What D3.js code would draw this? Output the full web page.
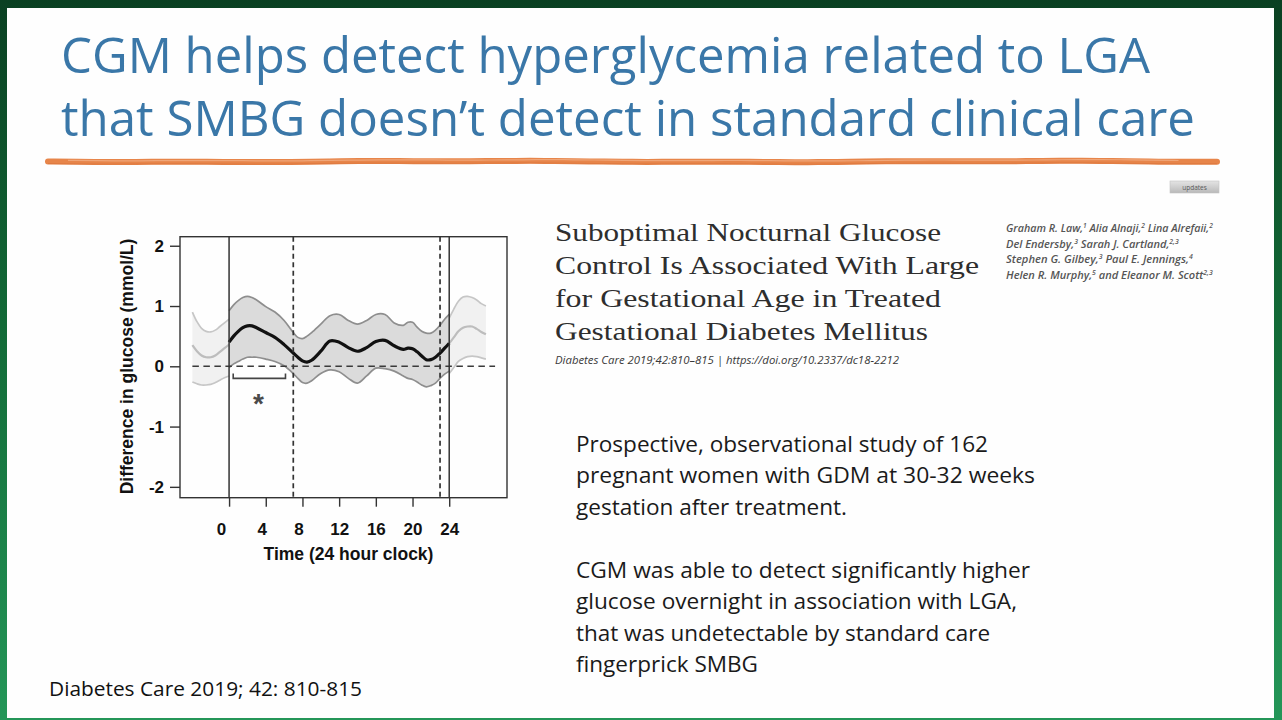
<!DOCTYPE html>
<html>
<head>
<meta charset="utf-8">
<script src="https://cdn.jsdelivr.net/npm/d3@7"></script>
<style>
  html, body { margin: 0; padding: 0; background: #0b4524; }
  svg { display: block; }
</style>
</head>
<body>
<script>
// *******************//
//        Data        //
// *******************//

const tickHours = [0, 4, 8, 12, 16, 20, 24];
const tickDiffs = [-2, -1, 0, 1, 2];
const dayBounds = [0, 24];          // solid verticals
const nightBounds = [7, 23];        // dashed verticals
const zeroSpan = [-4, 29];

// main 24 h curve (difference LGA vs non-LGA, mmol/L)
const mainHours = [0, 0.5, 1, 1.5, 2, 2.5, 3, 4, 5, 6, 7, 7.5, 8, 8.5, 9, 10, 11, 12, 13, 14, 15, 16, 17, 18, 19, 19.5, 20, 20.5, 21, 21.5, 22, 22.5, 23, 23.5, 24];
const mainMean  = [0.40, 0.50, 0.58, 0.64, 0.67, 0.67, 0.64, 0.56, 0.48, 0.36, 0.22, 0.15, 0.09, 0.07, 0.10, 0.25, 0.42, 0.40, 0.31, 0.25, 0.31, 0.41, 0.43, 0.34, 0.28, 0.30, 0.29, 0.24, 0.17, 0.11, 0.11, 0.15, 0.22, 0.30, 0.38];
const mainUpper = [0.92, 1.02, 1.09, 1.14, 1.16, 1.14, 1.10, 0.99, 0.90, 0.76, 0.56, 0.48, 0.46, 0.50, 0.56, 0.70, 0.84, 0.86, 0.76, 0.70, 0.76, 0.86, 0.86, 0.72, 0.68, 0.73, 0.73, 0.65, 0.58, 0.55, 0.55, 0.60, 0.68, 0.78, 0.86];
const mainLower = [-0.02, 0.04, 0.08, 0.12, 0.15, 0.15, 0.15, 0.12, 0.08, 0.01, -0.12, -0.20, -0.27, -0.28, -0.24, -0.12, -0.06, -0.09, -0.20, -0.28, -0.16, -0.03, -0.04, -0.08, -0.16, -0.20, -0.22, -0.26, -0.31, -0.34, -0.32, -0.28, -0.20, -0.13, -0.08];

// wrapped segments drawn faintly either side
const leftHours = [-4, -3.5, -3, -2.5, -2, -1.5, -1, -0.5, 0];
const leftMean  = [0.35, 0.25, 0.18, 0.15, 0.15, 0.18, 0.24, 0.30, 0.36];
const leftUpper = [0.90, 0.74, 0.63, 0.58, 0.57, 0.60, 0.66, 0.72, 0.78];
const leftLower = [-0.26, -0.29, -0.31, -0.31, -0.30, -0.27, -0.23, -0.19, -0.16];

const rightHours = [24, 24.5, 25, 25.5, 26, 26.5, 27, 27.5, 28];
const rightMean  = [0.38, 0.48, 0.58, 0.64, 0.66, 0.66, 0.62, 0.57, 0.53];
const rightUpper = [0.80, 0.95, 1.08, 1.15, 1.16, 1.14, 1.10, 1.04, 1.00];
const rightLower = [-0.12, -0.02, 0.08, 0.13, 0.16, 0.17, 0.16, 0.14, 0.12];

// significance bracket
const bracketHours = [0.45, 6.15];
const bracketDiff = -0.2;
const starPoint = [3.2, -0.5];

// texts
const titleLines = ["CGM helps detect hyperglycemia related to LGA", "that SMBG doesn\u2019t detect in standard clinical care"];
const paperTitle = ["Suboptimal Nocturnal Glucose", "Control Is Associated With Large", "for Gestational Age in Treated", "Gestational Diabetes Mellitus"];
const paperCite = "Diabetes Care 2019;42:810\u2013815 | https://doi.org/10.2337/dc18-2212";
const authors = [
  [["Graham R. Law,", "1"], [" Alia Alnaji,", "2"], [" Lina Alrefaii,", "2"]],
  [["Del Endersby,", "3"], [" Sarah J. Cartland,", "2,3"]],
  [["Stephen G. Gilbey,", "3"], [" Paul E. Jennings,", "4"]],
  [["Helen R. Murphy,", "5"], [" and Eleanor M. Scott", "2,3"]]
];
const bodyLines = [
  "Prospective, observational study of 162",
  "pregnant women with GDM at 30-32 weeks",
  "gestation after treatment.",
  "",
  "CGM was able to detect significantly higher",
  "glucose overnight in association with LGA,",
  "that was undetectable by standard care",
  "fingerprick SMBG"
];
const footer = "Diabetes Care 2019; 42: 810-815";
const xLabel = "Time (24 hour clock)";
const yLabel = "Difference in glucose (mmol/L)";

// *******************//
//       Slide        //
// *******************//

const W = 1282, H = 720;
const svg = d3.select("body").append("svg").attr("width", W).attr("height", H);

const defs = svg.append("defs");
const frame = defs.append("linearGradient").attr("id", "frame").attr("x1", 0).attr("y1", 0).attr("x2", 0).attr("y2", 1);
frame.append("stop").attr("offset", "0%").attr("stop-color", "#0a4022");
frame.append("stop").attr("offset", "45%").attr("stop-color", "#126a37");
frame.append("stop").attr("offset", "100%").attr("stop-color", "#249658");
const btn = defs.append("linearGradient").attr("id", "btn").attr("x1", 0).attr("y1", 0).attr("x2", 0).attr("y2", 1);
btn.append("stop").attr("offset", "0%").attr("stop-color", "#e4e4e4");
btn.append("stop").attr("offset", "100%").attr("stop-color", "#b9b9b9");

svg.append("rect").attr("width", W).attr("height", H).attr("fill", "url(#frame)");
svg.append("rect").attr("x", 7).attr("y", 8).attr("width", 1267).attr("height", 710).attr("fill", "#fefefe");

// title
const sans = "'Open Sans', 'Noto Sans', sans-serif";
const titleWidths = [1089, 1134];
svg.selectAll("text.title").data(titleLines).join("text")
    .attr("class", "title")
    .attr("x", 61).attr("y", (d, i) => 73 + i * 63)
    .attr("font-family", sans).attr("font-size", 49)
    .attr("fill", "#3a77a8")
    .attr("textLength", (d, i) => titleWidths[i]).attr("lengthAdjust", "spacingAndGlyphs")
    .text(d => d);

// orange brush stroke under the title
const brush = d3.range(0, 1.0001, 0.025).map(t => [48 + t * 1169, 161.5 + 0.5 * Math.sin(t * 13) + 0.3 * Math.sin(t * 41)]);
svg.append("path").attr("d", d3.line().curve(d3.curveBasis)(brush))
    .attr("fill", "none").attr("stroke", "#e7854a").attr("stroke-width", 6).attr("stroke-linecap", "round");
svg.append("path").attr("d", d3.line().curve(d3.curveBasis)(brush.map(p => [p[0] + 20, p[1] - 1.2]).slice(0, -2)))
    .attr("fill", "none").attr("stroke", "#f3b48c").attr("stroke-width", 1.2).attr("opacity", 0.7);
svg.append("path").attr("d", d3.line().curve(d3.curveBasis)(brush.map(p => [p[0], p[1] + 2])))
    .attr("fill", "none").attr("stroke", "#d9733a").attr("stroke-width", 1).attr("opacity", 0.6);

// "updates" badge
svg.append("rect").attr("x", 1170).attr("y", 181).attr("width", 49).attr("height", 12)
    .attr("fill", "url(#btn)").attr("stroke", "#c4c4c4").attr("stroke-width", 0.6);
svg.append("text").attr("x", 1194.5).attr("y", 189.5).attr("text-anchor", "middle")
    .attr("font-family", sans).attr("font-size", 6.5).attr("fill", "#5a5a5a").text("updates");

// paper title
const paperWidths = [386, 424, 386, 373];
svg.selectAll("text.paper").data(paperTitle).join("text")
    .attr("class", "paper")
    .attr("x", 555).attr("y", (d, i) => 241 + i * 33)
    .attr("font-family", "'Liberation Serif', serif").attr("font-size", 26)
    .attr("fill", "#2e2e2e")
    .attr("textLength", (d, i) => paperWidths[i]).attr("lengthAdjust", "spacingAndGlyphs")
    .text(d => d);
svg.append("text").attr("x", 555).attr("y", 364)
    .attr("font-family", sans).attr("font-style", "italic").attr("font-size", 10)
    .attr("fill", "#3a3a3a")
    .attr("textLength", 344).attr("lengthAdjust", "spacingAndGlyphs")
    .text(paperCite);

// authors
const authorWidths = [207, 173, 187, 207];
authors.forEach((line, i) => {
  const t = svg.append("text")
      .attr("font-family", sans).attr("font-style", "italic").attr("font-weight", 600)
      .attr("font-size", 10.5).attr("fill", "#555");
  line.forEach((seg, j) => {
    t.append("tspan").attr("dy", j ? 4 : 0).text(seg[0]);
    t.append("tspan").attr("font-size", 6.5).attr("dy", -4).text(seg[1]);
  });
  const w = t.node().getComputedTextLength();
  t.attr("transform", `translate(1006,${232 + i * 15.5}) scale(${authorWidths[i] / w},1)`);
});

// body text
const bodyWidths = [412, 459, 271, 0, 454, 441, 414, 182];
svg.selectAll("text.body").data(bodyLines).join("text")
    .attr("class", "body")
    .attr("x", 576).attr("y", (d, i) => 451.5 + i * 31.5)
    .attr("font-family", sans).attr("font-size", 22)
    .attr("fill", "#1a1a1a")
    .attr("textLength", (d, i) => bodyWidths[i] || null).attr("lengthAdjust", "spacingAndGlyphs")
    .text(d => d);

svg.append("text").attr("x", 49).attr("y", 696)
    .attr("font-family", sans).attr("font-size", 20).attr("fill", "#111")
    .attr("textLength", 313).attr("lengthAdjust", "spacingAndGlyphs")
    .text(footer);

// *******************//
//       Chart        //
// *******************//

const box = {left: 180, right: 507, top: 236.7, bottom: 497.7};
const x = d3.scaleLinear().domain([-5.35, 30.3]).range([box.left, box.right]);
const y = d3.scaleLinear().domain([-2.18, 2.15]).range([box.bottom, box.top]);

const chart = svg.append("g");
const ink = "#333";
const arial = "'Liberation Sans', Arial, sans-serif";

function zipRows(hours, mean, upper, lower) {
  return hours.map((h, i) => ({h: h, m: mean[i], u: upper[i], l: lower[i]}));
}
const mainRows = zipRows(mainHours, mainMean, mainUpper, mainLower);
const sideRows = [zipRows(leftHours, leftMean, leftUpper, leftLower), zipRows(rightHours, rightMean, rightUpper, rightLower)];

const curve = d3.curveCatmullRom.alpha(0.5);
const band = d3.area().curve(curve).x(d => x(d.h)).y0(d => y(d.l)).y1(d => y(d.u));
const lineOf = key => d3.line().curve(curve).x(d => x(d.h)).y(d => y(d[key]));

// faint wrapped segments
sideRows.forEach(rows => {
  chart.append("path").attr("d", band(rows)).attr("fill", "#f1f1f1");
  ["u", "l"].forEach(k => chart.append("path").attr("d", lineOf(k)(rows))
      .attr("fill", "none").attr("stroke", "#c6c6c6").attr("stroke-width", 1.7));
  chart.append("path").attr("d", lineOf("m")(rows))
      .attr("fill", "none").attr("stroke", "#bdbdbd").attr("stroke-width", 2.2);
});

// main band
chart.append("path").attr("d", band(mainRows)).attr("fill", "#dbdbdb");
["u", "l"].forEach(k => chart.append("path").attr("d", lineOf(k)(mainRows))
    .attr("fill", "none").attr("stroke", "#8e8e8e").attr("stroke-width", 1.7));

// zero reference
chart.append("line")
    .attr("x1", x(zeroSpan[0])).attr("x2", x(zeroSpan[1]))
    .attr("y1", y(0)).attr("y2", y(0))
    .attr("stroke", "#3a3a3a").attr("stroke-width", 1.5).attr("stroke-dasharray", "6.5,4.5");

// mean line
chart.append("path").attr("d", lineOf("m")(mainRows))
    .attr("fill", "none").attr("stroke", "#111").attr("stroke-width", 3.2).attr("stroke-linejoin", "round");

// verticals
chart.selectAll("line.day").data(dayBounds).join("line")
    .attr("class", "day")
    .attr("x1", d => x(d)).attr("x2", d => x(d))
    .attr("y1", box.top).attr("y2", box.bottom)
    .attr("stroke", ink).attr("stroke-width", 1.5);
chart.selectAll("line.night").data(nightBounds).join("line")
    .attr("class", "night")
    .attr("x1", d => x(d)).attr("x2", d => x(d))
    .attr("y1", box.top).attr("y2", box.bottom)
    .attr("stroke", ink).attr("stroke-width", 1.7).attr("stroke-dasharray", "5,3.5");

// bracket and asterisk
chart.append("path")
    .attr("d", d3.line()([
      [x(bracketHours[0]), y(bracketDiff + 0.08)],
      [x(bracketHours[0]), y(bracketDiff)],
      [x(bracketHours[1]), y(bracketDiff)],
      [x(bracketHours[1]), y(bracketDiff + 0.08)]
    ]))
    .attr("fill", "none").attr("stroke", "#444").attr("stroke-width", 1.6);
chart.append("text")
    .attr("x", x(starPoint[0])).attr("y", y(starPoint[1]) + 17)
    .attr("text-anchor", "middle")
    .attr("font-family", arial).attr("font-weight", "bold").attr("font-size", 28).attr("fill", "#4a4a4a")
    .text("*");

// box
chart.append("rect")
    .attr("x", box.left).attr("y", box.top)
    .attr("width", box.right - box.left).attr("height", box.bottom - box.top)
    .attr("fill", "none").attr("stroke", ink).attr("stroke-width", 1.4);

// axes
const xAxis = chart.append("g")
    .attr("transform", `translate(0,${box.bottom})`)
    .call(d3.axisBottom(x).tickValues(tickHours).tickSize(9).tickPadding(16).tickSizeOuter(0));
const yAxis = chart.append("g")
    .attr("transform", `translate(${box.left},0)`)
    .call(d3.axisLeft(y).tickValues(tickDiffs).tickSize(10).tickPadding(6).tickFormat(d => d < 0 ? "-" + Math.abs(d) : d));
[xAxis, yAxis].forEach(g => {
  g.select(".domain").remove();
  g.selectAll(".tick line").attr("stroke", ink).attr("stroke-width", 1.4);
  g.selectAll(".tick text").attr("fill", "#111").attr("font-family", arial)
      .attr("font-weight", "bold").attr("font-size", 17);
});
// labels of the first ticks sit slightly left of their marks in the source
xAxis.selectAll(".tick text").attr("dx", d => d === 0 ? -8 : (d < 12 ? -4 : 0));

chart.append("text")
    .attr("x", 348.5).attr("y", 559.5).attr("text-anchor", "middle")
    .attr("font-family", arial).attr("font-weight", "bold").attr("font-size", 17.5).attr("fill", "#111")
    .text(xLabel);
chart.append("text")
    .attr("transform", "translate(133,366.5) rotate(-90)").attr("text-anchor", "middle")
    .attr("font-family", arial).attr("font-weight", "bold").attr("font-size", 17.5).attr("fill", "#111")
    .text(yLabel);
</script>
</body>
</html>
